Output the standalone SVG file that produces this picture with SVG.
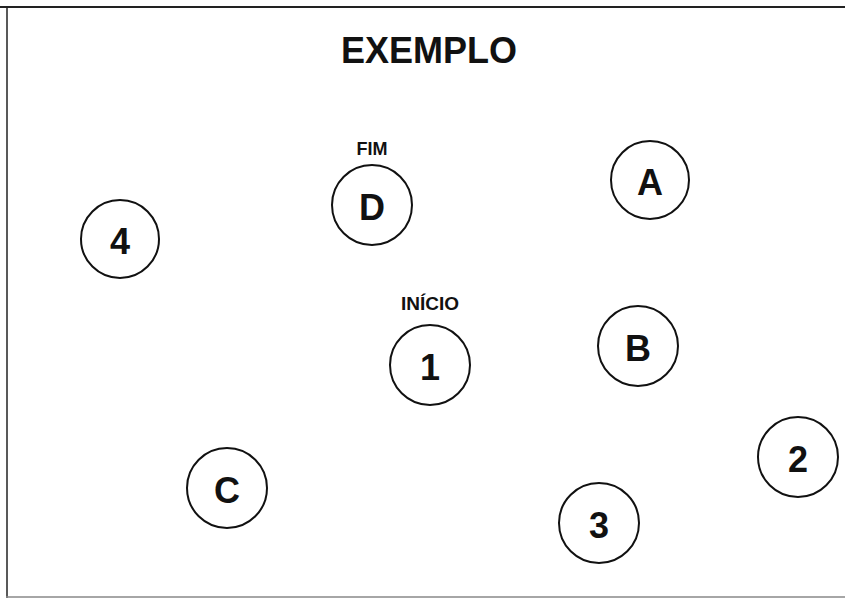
<svg xmlns="http://www.w3.org/2000/svg" width="845" height="601" viewBox="0 0 845 601">
<style>
.node circle{fill:#fff;stroke:#111;stroke-width:2}
.node text{font-family:"Liberation Sans",Arial,sans-serif;font-weight:bold;font-size:36px;fill:#111;text-anchor:middle;dominant-baseline:central}
.lbl{font-family:"Liberation Sans",Arial,sans-serif;font-weight:bold;fill:#111;text-anchor:middle}
</style>
<rect width="845" height="601" fill="#fff"/>
<g id="frame" fill="none">
<line x1="0" y1="7" x2="845" y2="7" stroke="#222" stroke-width="2"/>
<line x1="7" y1="6" x2="7" y2="598" stroke="#222" stroke-width="1.5"/>
<line x1="6" y1="597" x2="845" y2="597" stroke="#888" stroke-width="1.5"/>
</g>
<text class="lbl" x="429" y="63" font-size="36" textLength="176" lengthAdjust="spacingAndGlyphs">EXEMPLO</text>
<text class="lbl" x="372" y="155" font-size="18">FIM</text>
<text class="lbl" x="430" y="310" font-size="19">INÍCIO</text>
<g id="connectors"></g>
<g id="node-D" class="node"><circle cx="372" cy="205" r="40"/><text x="372" y="207">D</text></g>
<g id="node-A" class="node"><circle cx="650" cy="180" r="39"/><text x="650" y="182">A</text></g>
<g id="node-4" class="node"><circle cx="120" cy="239" r="39"/><text x="120" y="241">4</text></g>
<g id="node-1" class="node"><circle cx="430" cy="365" r="40"/><text x="430" y="367">1</text></g>
<g id="node-B" class="node"><circle cx="638" cy="346" r="40"/><text x="638" y="348">B</text></g>
<g id="node-2" class="node"><circle cx="798" cy="457" r="40"/><text x="798" y="459">2</text></g>
<g id="node-C" class="node"><circle cx="227" cy="488" r="40"/><text x="227" y="490">C</text></g>
<g id="node-3" class="node"><circle cx="599" cy="523" r="40"/><text x="599" y="525">3</text></g>
</svg>
